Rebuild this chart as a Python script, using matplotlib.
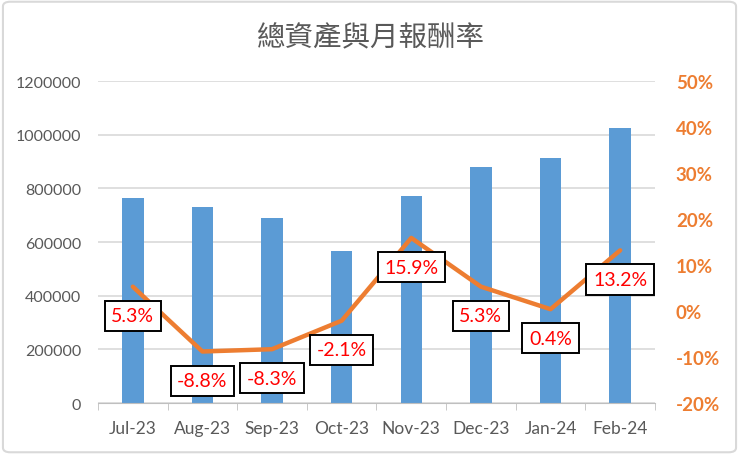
import matplotlib
matplotlib.use("Agg")
import matplotlib.pyplot as plt
from matplotlib.patches import FancyBboxPatch
from matplotlib.ticker import FuncFormatter

months = ["Jul-23", "Aug-23", "Sep-23", "Oct-23", "Nov-23", "Dec-23", "Jan-24", "Feb-24"]
assets = [763000, 730000, 689000, 565000, 773000, 879000, 913000, 1024000]
returns = [5.3, -8.8, -8.3, -2.1, 15.9, 5.3, 0.4, 13.2]

plt.rcParams['font.family'] = ['Lato', 'Noto Sans CJK TC', 'DejaVu Sans']

fig = plt.figure(figsize=(7.39, 4.56), dpi=100)
# light border round the chart
fig.patches.append(FancyBboxPatch((0.004, 0.006), 0.992, 0.988, boxstyle="round,pad=0,rounding_size=0.01",
                                  transform=fig.transFigure, fc='white', ec='#D9D9D9', lw=1.5, zorder=-1))

ax = fig.add_axes([0.1326, 0.114, 0.7537, 0.706])
ax2 = ax.twinx()

x = list(range(len(months)))
ax.bar(x, assets, width=0.31, color='#5B9BD5', zorder=2)
ax.set_xlim(-0.5, len(months) - 0.5)
ax.set_ylim(0, 1200000)
ax.set_yticks(range(0, 1200001, 200000))
ax.yaxis.set_major_formatter(FuncFormatter(lambda v, p: f"{v:.0f}"))
ax.yaxis.grid(True, color='#D9D9D9', lw=1.2, zorder=0)
ax.set_axisbelow(True)
for s in ['top', 'right', 'left']:
    ax.spines[s].set_visible(False)
ax.spines['bottom'].set_color('#BFBFBF')
ax.tick_params(axis='y', length=0, pad=12, labelsize=11.5, labelcolor='#595959')
ax.set_xticks(x)
ax.set_xticklabels(months)
ax.set_xticks([i - 0.5 for i in range(len(months) + 1)], minor=True)
ax.tick_params(axis='x', which='major', length=0, pad=12, labelsize=12.5, labelcolor='#595959')
ax.tick_params(axis='x', which='minor', length=5, color='#BFBFBF')

ax2.plot(x, [r / 100 for r in returns], color='#ED7D31', lw=3.2, solid_capstyle='round', zorder=3)
ax2.set_ylim(-0.2, 0.5)
ax2.set_yticks([i / 10 for i in range(-2, 6)])
ax2.yaxis.set_major_formatter(FuncFormatter(lambda v, p: f"{v*100:.0f}%"))
ax2.tick_params(axis='y', length=0, pad=15, labelsize=13.5, labelcolor='#ED7D31')
for lab in ax2.get_yticklabels():
    lab.set_fontweight('bold')
for s in ax2.spines.values():
    s.set_visible(False)

for i, r in enumerate(returns):
    ax2.annotate(f"{r:.1f}%", (i, r / 100), xytext=(0, -21), textcoords='offset points',
                 ha='center', va='center', fontsize=14, color='#FF0000',
                 bbox=dict(boxstyle='square,pad=0.34', fc='white', ec='black', lw=1.4), zorder=5)

fig.text(0.502, 0.917, "總資產與月報酬率", ha='center', va='center', fontsize=20.5,
         color='#595959', family=['Noto Sans CJK TC', 'DejaVu Sans'], fontweight='light')

fig.savefig("out.png", dpi=100)
